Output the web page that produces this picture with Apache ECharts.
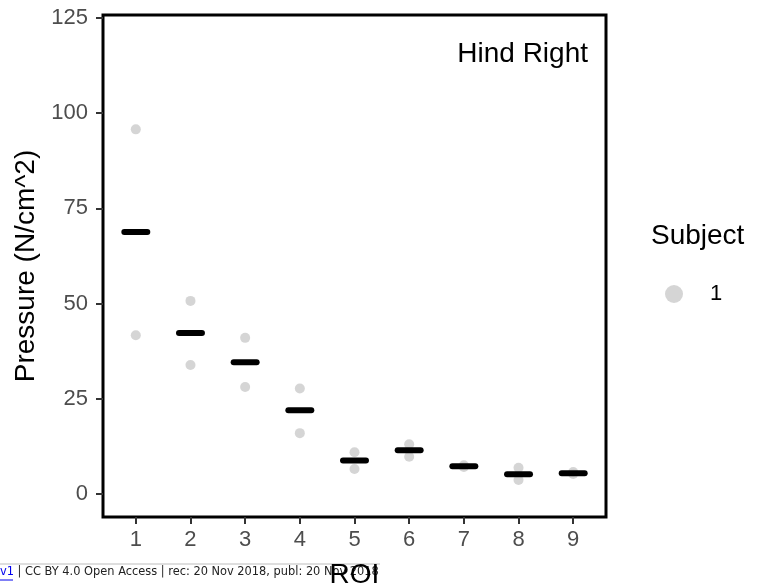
<!DOCTYPE html>
<html>
<head>
<meta charset="utf-8">
<script src="https://cdn.jsdelivr.net/npm/echarts@6/dist/echarts.min.js"></script>
<style>
html,body{margin:0;padding:0;background:#fff;}
#chart{width:758px;height:588px;}
</style>
</head>
<body>
<div id="chart"></div>
<script>
// ---- data ----
const roi = [1, 2, 3, 4, 5, 6, 7, 8, 9];
const pointsHigh = [95.7, 50.7, 41.0, 27.7, 11.0, 13.1, 7.6, 6.9, 5.8];
const pointsLow  = [41.7, 33.9, 28.1, 16.0, 6.6, 9.8, 7.1, 3.7, 5.3];
const medians    = [68.8, 42.3, 34.6, 22.0, 8.8, 11.5, 7.3, 5.2, 5.5];
const yTicks = [0, 25, 50, 75, 100, 125];
const xTicks = roi;
const panelLabel = 'Hind Right';
const legendTitle = 'Subject';
const subjectName = '1';
const footer = ' | CC BY 4.0 Open Access | rec: 20 Nov 2018, publ: 20 Nov 2018';

const FONT = '"Liberation Sans", Arial, Helvetica, sans-serif';
const pointData = [];
roi.forEach((r, i) => { pointData.push([r, pointsHigh[i]]); pointData.push([r, pointsLow[i]]); });
const medianData = roi.map((r, i) => [r, medians[i]]);

const chart = echarts.init(document.getElementById('chart'));
chart.setOption({
  animation: false,
  backgroundColor: '#fff',
  grid: {
    left: 103, top: 15, right: 152, bottom: 71,
    containLabel: false, outerBoundsMode: 'none',
    show: true, borderColor: '#000', borderWidth: 3, backgroundColor: 'transparent'
  },
  xAxis: {
    type: 'value', min: 0.4, max: 9.6,
    name: 'ROI', nameLocation: 'middle', nameGap: 44,
    nameTextStyle: { fontFamily: FONT, fontSize: 28, color: '#000' },
    axisLine: { show: false, onZero: false },
    splitLine: { show: false },
    axisTick: { show: true, length: 7, customValues: xTicks, lineStyle: { color: '#333', width: 2 } },
    axisLabel: { customValues: xTicks, margin: 12, fontFamily: FONT, fontSize: 22, color: '#4D4D4D' }
  },
  yAxis: {
    type: 'value', min: -6.0, max: 125.7,
    name: 'Pressure (N/cm^2)', nameLocation: 'middle', nameGap: 59, nameRotate: 90,
    nameTextStyle: { fontFamily: FONT, fontSize: 28, color: '#000' },
    axisLine: { show: false, onZero: false },
    splitLine: { show: false },
    axisTick: { show: true, length: 7, customValues: yTicks, lineStyle: { color: '#333', width: 2 } },
    axisLabel: { customValues: yTicks, margin: 15, fontFamily: FONT, fontSize: 22, color: '#4D4D4D' }
  },
  legend: {
    data: [subjectName],
    left: 660, top: 278,
    orient: 'vertical',
    itemWidth: 18, itemHeight: 18,
    icon: 'circle',
    textStyle: { fontFamily: FONT, fontSize: 22, color: '#000', padding: [0, 0, 0, 22] }
  },
  series: [
    {
      name: subjectName,
      type: 'scatter',
      data: pointData,
      symbol: 'circle',
      symbolSize: 10,
      itemStyle: { color: '#CACACA' },
      z: 2
    },
    {
      name: 'median',
      type: 'custom',
      data: medianData,
      z: 3,
      renderItem: function (params, api) {
        const x = api.value(0), y = api.value(1);
        const p1 = api.coord([x - 0.21, y]);
        const p2 = api.coord([x + 0.21, y]);
        return {
          type: 'line',
          shape: { x1: p1[0], y1: p1[1], x2: p2[0], y2: p2[1] },
          style: { stroke: '#000', lineWidth: 6, lineCap: 'round' }
        };
      }
    }
  ],
  graphic: [
    { type: 'text', right: 170, top: 40,
      style: { text: panelLabel, font: '28px ' + FONT, fill: '#000' } },
    { type: 'text', left: 651, top: 222,
      style: { text: legendTitle, font: '28px ' + FONT, fill: '#000' } },
    { type: 'line', shape: { x1: 0, y1: 564, x2: 380, y2: 564 },
      style: { stroke: '#BDBDBD', lineWidth: 1 }, z: 0 },
    { type: 'text', left: 0, top: 567, z: 0,
      style: { text: '{a|v1}{b|' + footer + '}', font: '11.4px "DejaVu Sans"',
        rich: { a: { fontFamily: 'DejaVu Sans', fontSize: 11.4, fill: '#0000EE' },
                b: { fontFamily: 'DejaVu Sans', fontSize: 11.4, fill: '#222' } } } },
    { type: 'line', shape: { x1: 0, y1: 580, x2: 13, y2: 580 },
      style: { stroke: '#0000EE', lineWidth: 1 }, z: 0 }
  ]
});
</script>
</body>
</html>
